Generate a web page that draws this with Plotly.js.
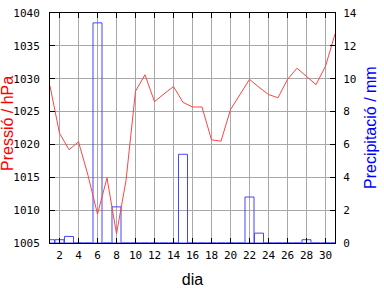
<!DOCTYPE html>
<html><head><meta charset="utf-8">
<script src="https://cdn.plot.ly/plotly-3.0.1.min.js"></script>
<style>body{margin:0;padding:0;background:#fff}#c{width:384px;height:288px}</style>
</head><body><div id="c"></div>
<script>
const days = [1,2,3,4,5,6,7,8,9,10,11,12,13,14,15,16,17,18,19,20,21,22,23,24,25,26,27,28,29,30,31];
const pressure = [1028.9,1021.7,1019.2,1020.4,1015.3,1009.4,1014.9,1006.4,1014.5,1028.1,1030.6,1026.5,1027.7,1028.8,1026.4,1025.7,1025.7,1020.7,1020.5,1025.3,1027.6,1029.9,1028.7,1027.6,1027.1,1029.9,1031.6,1030.3,1029.1,1031.9,1036.8];
const precip = [0.2,0.2,0.4,0,0,13.4,0,2.2,0,0,0,0,0,0,5.4,0,0,0,0,0,0,2.8,0.6,0,0,0,0,0.2,0,0,0];
const xTicks = [2,4,6,8,10,12,14,16,18,20,22,24,26,28,30];
const xTitle = 'dia';
const leftTitle = 'Pressió / hPa';
const rightTitle = 'Precipitació / mm';

const tickFont = {family:'DejaVu Sans Mono', size:11, color:'#000'};
const titleFamily = 'Liberation Sans';
const data = [
  {x: days, y: precip, type:'bar', yaxis:'y', width:0.95,
   marker:{color:'rgba(0,0,0,0)', line:{color:'#4444ff', width:1}}, hoverinfo:'none'},
  {x: days, y: pressure, type:'scatter', mode:'lines', yaxis:'y2',
   line:{color:'#ff4444', width:1}, hoverinfo:'none'}
];
const layout = {
  width:384, height:288,
  margin:{l:50, r:49, t:13, b:45},
  paper_bgcolor:'#fff', plot_bgcolor:'#fff',
  showlegend:false,
  xaxis:{range:[1,31], tickvals:xTicks, ticks:'inside', ticklen:5, tickcolor:'#000',
    showline:true, linecolor:'#000', linewidth:1, mirror:'ticks',
    showgrid:true, gridcolor:'#a8a8a8', gridwidth:1, zeroline:false,
    tickfont:tickFont, ticklabelstandoff:2,
    title:{text:xTitle, font:{family:titleFamily, size:16, color:'#000'}}},
  yaxis:{range:[0,14], dtick:2, side:'right', ticks:'inside', ticklen:5, tickcolor:'#000',
    showline:true, linecolor:'#000', linewidth:1, showgrid:false,
    zeroline:true, zerolinecolor:'#4444ff', zerolinewidth:1,
    tickfont:tickFont, ticklabelstandoff:5},
  yaxis2:{range:[1005,1040], dtick:5, side:'left', overlaying:'y', ticks:'inside', ticklen:5, tickcolor:'#000',
    showline:true, linecolor:'#000', linewidth:1, showgrid:true, gridcolor:'#a8a8a8', zeroline:false,
    tickfont:tickFont, ticklabelstandoff:7},
  annotations:[
    {text:leftTitle, xref:'paper', yref:'paper', x:0, y:0.5, xanchor:'center', yanchor:'middle',
     xshift:-43, yshift:4, textangle:-90, showarrow:false,
     font:{family:titleFamily, size:16, color:'#ff0000'}},
    {text:rightTitle, xref:'paper', yref:'paper', x:1, y:0.5, xanchor:'center', yanchor:'middle',
     xshift:35, yshift:0, textangle:-90, showarrow:false,
     font:{family:titleFamily, size:16, color:'#0000ff'}}
  ]
};
Plotly.newPlot('c', data, layout, {staticPlot:true, displayModeBar:false});
</script></body></html>
